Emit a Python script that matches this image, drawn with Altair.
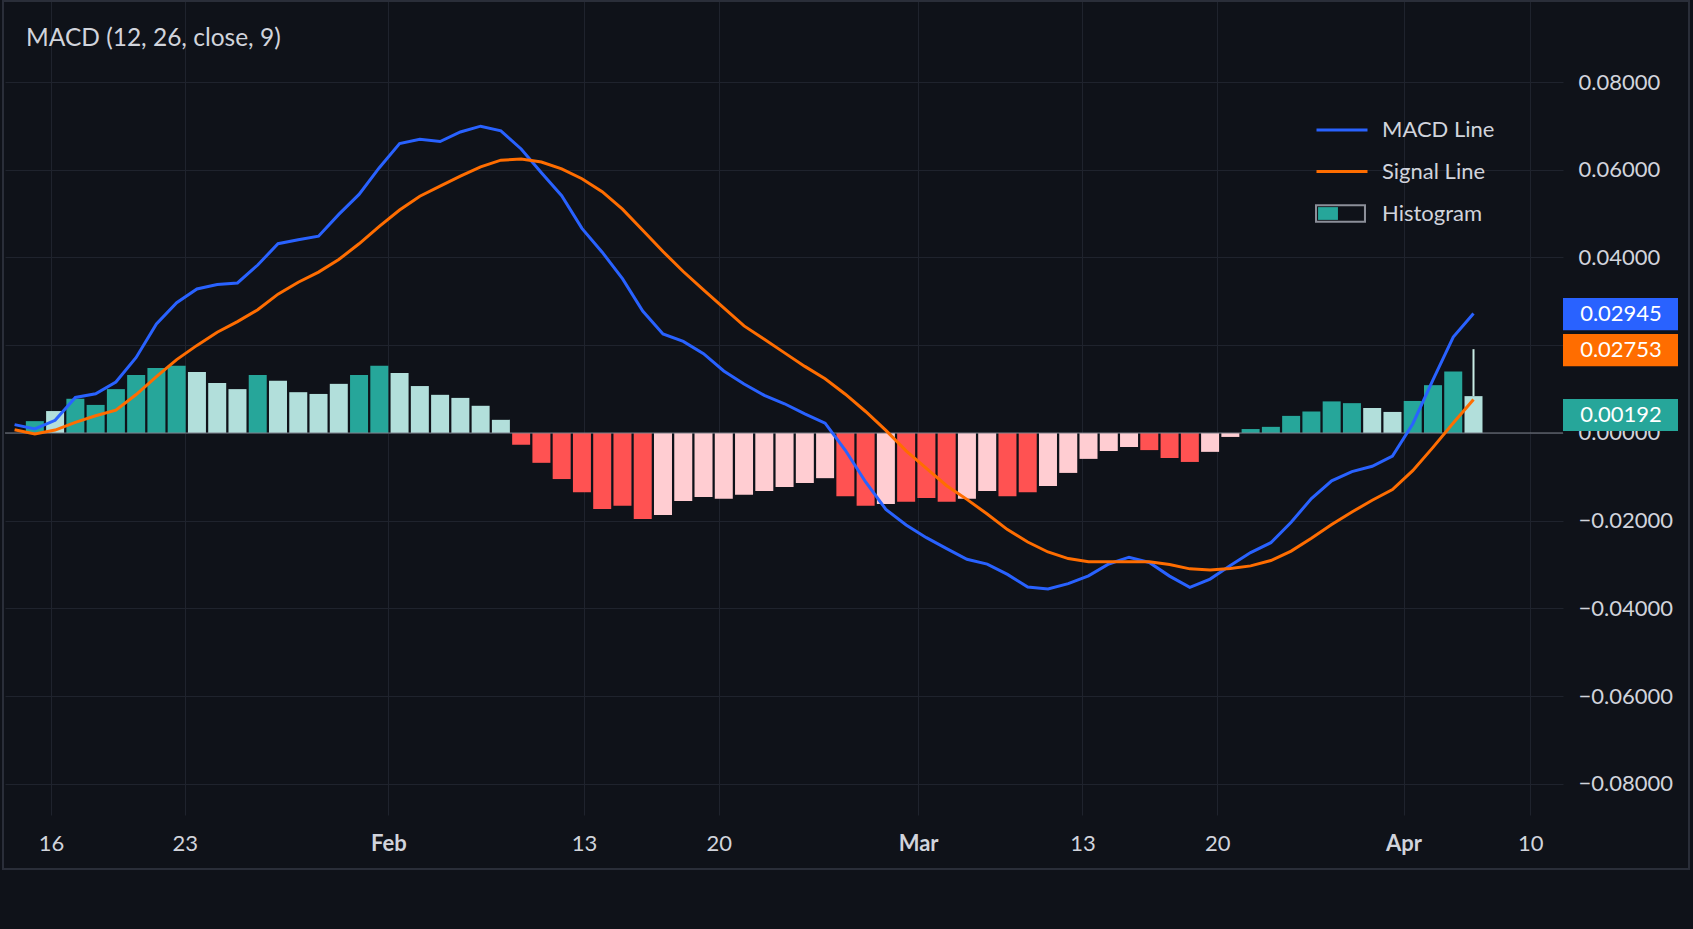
import altair as alt
import pandas as pd

# ---------------- values ----------------
# histogram, one value per bar (bar index 0..71)
hist_left = [0.0027, 0.0050, 0.0078, 0.0064, 0.0100, 0.0132, 0.0148, 0.0153, 0.0139, 0.0114,
             0.0100, 0.0132, 0.0119, 0.0093, 0.0089, 0.0112, 0.0132, 0.0153, 0.0137, 0.0107,
             0.0087, 0.0080, 0.0062, 0.0030]
hist_mid = [-0.0027, -0.0068, -0.0105, -0.0135, -0.0173, -0.0166, -0.0196, -0.0187, -0.0155, -0.0146,
            -0.0150, -0.0141, -0.0132, -0.0123, -0.0114, -0.0103, -0.0144, -0.0166, -0.0162, -0.0157,
            -0.0148, -0.0157, -0.0150, -0.0132, -0.0144, -0.0135, -0.0121, -0.0091, -0.0059, -0.0041,
            -0.0032, -0.0039, -0.0057, -0.0066, -0.0043, -0.0009]
hist_right = [0.0009, 0.0014, 0.0039, 0.0049, 0.0072, 0.0068, 0.0057, 0.0048, 0.0073, 0.0109,
              0.0140, 0.0084]
# bar shade: G growing above zero, g falling above, R falling below, r rising below
shade_left = "GgGGGGGGgggGggggGGgggggg"
shade_mid = "RRRRRRR" + "rrrrrrrrr" + "RR" + "r" + "RRR" + "rr" + "RR" + "rrrrr" + "RRR" + "rr"
shade_right = "GGGGGGggGGGg"
# thin wick above the last bar: bar index, from, to
wick = [71, 0.0084, 0.0191]

# lines, one value per bar starting one bar before the first histogram bar (index -1..71)
macd_line = [0.00191, 0.00091, 0.00289, 0.00809, 0.00893, 0.01162, 0.01721, 0.02484, 0.02968, 0.03282,
             0.03385, 0.03419, 0.03829, 0.04315, 0.04403, 0.04485, 0.04982, 0.05438, 0.06047, 0.06598,
             0.06694, 0.06644, 0.06860, 0.06993, 0.06888, 0.06473, 0.05930, 0.05409, 0.04663, 0.04121,
             0.03519, 0.02781, 0.02256, 0.02088, 0.01807, 0.01413, 0.01117, 0.00857, 0.00666, 0.00438,
             0.00223, -0.00394, -0.01117, -0.01741, -0.02097, -0.02386, -0.02635, -0.02879, -0.02988, -0.03223,
             -0.03512, -0.03556, -0.03433, -0.03255, -0.02986, -0.02831, -0.02952, -0.03262, -0.03517, -0.03330,
             -0.03018, -0.02726, -0.02500, -0.02033, -0.01495, -0.01089, -0.00880, -0.00759, -0.00524, 0.00205,
             0.01208, 0.02188, 0.02724]
signal_line = [0.00073, -0.00025, 0.00066, 0.00242, 0.00394, 0.00520, 0.00877, 0.01283, 0.01673, 0.01997,
               0.02297, 0.02539, 0.02808, 0.03164, 0.03437, 0.03667, 0.03954, 0.04312, 0.04711, 0.05083,
               0.05397, 0.05625, 0.05853, 0.06065, 0.06218, 0.06245, 0.06177, 0.06019, 0.05796, 0.05500,
               0.05103, 0.04622, 0.04137, 0.03681, 0.03264, 0.02851, 0.02441, 0.02136, 0.01826, 0.01518,
               0.01235, 0.00884, 0.00490, 0.00059, -0.00408, -0.00809, -0.01201, -0.01513, -0.01846, -0.02202,
               -0.02484, -0.02712, -0.02863, -0.02933, -0.02933, -0.02933, -0.02933, -0.02999, -0.03097, -0.03123,
               -0.03091, -0.03029, -0.02906, -0.02692, -0.02400, -0.02088, -0.01801, -0.01534, -0.01290, -0.00859,
               -0.00328, 0.00226, 0.00764]

# time axis: positions in bar units and their labels
tick_pos = [0.80, 7.40, 17.45, 27.10, 33.75, 43.59, 51.70, 58.35, 67.55, 73.80]
tick_lab = ["16", "23", "Feb", "13", "20", "Mar", "13", "20", "Apr", "10"]
month_pos = [17.45, 43.59, 67.55]

# value axis
y_ticks = [0.08, 0.06, 0.04, 0.02, 0.0, -0.02, -0.04, -0.06, -0.08]

# last-value tags on the price scale
tag_text = ["0.02945", "0.02753", "0.00192"]
tag_level = [0.0271, 0.0189, 0.0041]
tag_color = ["#2962ff", "#ff6d00", "#26a69a"]

title_text = "MACD (12, 26, close, 9)"

# ---------------- build tables ----------------
hist = hist_left + hist_mid + hist_right
shade = list(shade_left + shade_mid + shade_right)
n = min(len(hist), len(shade))
bars = pd.DataFrame({"i": list(range(n)), "v": hist[:n], "shade": shade[:n]})
wick_df = pd.DataFrame({"i": [wick[0]], "v": [wick[1]], "v2": [wick[2]]})

rows = []
for k, v in enumerate(macd_line):
    rows.append({"i": k - 1, "v": v, "series": "MACD Line"})
for k, v in enumerate(signal_line):
    rows.append({"i": k - 1, "v": v, "series": "Signal Line"})
lines = pd.DataFrame(rows)

tags = pd.DataFrame({"label": tag_text, "v": tag_level, "col": tag_color})

BG = "#0f1219"
TXT = "#d1d4dc"
GRID = "#1f232d"
FONT = "Lato"
W, H = 1558, 815

xscale = alt.Scale(domain=[-1.226, 75.17], nice=False, zero=False)
yscale = alt.Scale(domain=[-0.08707, 0.09869], nice=False, zero=False)

label_expr = "[" + ",".join("'%s'" % t for t in tick_lab) + "][indexof([" + \
    ",".join(str(p) for p in tick_pos) + "], datum.value)]"
month_test = "indexof([" + ",".join(str(p) for p in month_pos) + "], datum.value) >= 0"

x_axis = alt.Axis(values=tick_pos, labelExpr=label_expr, grid=True, gridColor=GRID,
                  ticks=False, tickSize=0, domain=False, labelFontSize=22, labelColor=TXT,
                  labelFont=FONT, labelPadding=28, labelBaseline="middle", title=None,
                  labelFontWeight={"condition": {"test": month_test, "value": "bold"}, "value": "normal"})
y_axis = alt.Axis(orient="right", values=y_ticks, format=".5f", grid=True, gridColor=GRID,
                  ticks=False, tickSize=0, domain=False, labelFontSize=22, labelColor=TXT,
                  labelFont=FONT, labelAlign="left", labelPadding=15, labelBaseline="middle",
                  title=None)

X = alt.X("i:Q", scale=xscale, axis=x_axis, title=None)
Y = alt.Y("v:Q", scale=yscale, axis=y_axis, title=None)

bar_layer = alt.Chart(bars).mark_bar(width=18).encode(
    x=X,
    y=alt.Y("v:Q", scale=yscale, axis=y_axis, title=None, stack=None),
    color=alt.Color("shade:N",
                    scale=alt.Scale(domain=["G", "g", "R", "r"],
                                    range=["#26a69a", "#b2dfdb", "#ff5252", "#ffcdd2"]),
                    legend=None),
)

wick_layer = alt.Chart(wick_df).mark_rule(color="#c8ebe4", strokeWidth=2).encode(
    x=X, y=Y, y2="v2:Q"
)

zero_layer = alt.Chart(pd.DataFrame({"v": [0.0]})).mark_rule(color="#7d808a", strokeWidth=1.2).encode(
    y=Y
)

line_layer = alt.Chart(lines).mark_line(strokeWidth=3).encode(
    x=X,
    y=Y,
    stroke=alt.Stroke("series:N",
                      scale=alt.Scale(domain=["MACD Line", "Signal Line"],
                                      range=["#2962ff", "#ff6d00"]),
                      legend=alt.Legend(orient="none", legendX=1310, legendY=103,
                                        direction="vertical", symbolType="stroke",
                                        symbolSize=2601, symbolStrokeWidth=3,
                                        labelFontSize=22, labelColor=TXT, labelFont=FONT,
                                        labelOffset=13, rowPadding=3.5, padding=0,
                                        title=None)),
)

# histogram legend icon: grey frame + teal block, drawn as two stacked legends
ring_path = "M-1,-0.36H1V0.36H-1Z M-0.92,-0.28V0.28H0.92V-0.28Z"
block_path = "M-0.88,-0.25H-0.1V0.25H-0.88Z"
hist_names = pd.DataFrame({"frame_name": ["Histogram"], "block_name": ["Histogram"]})

hist_legend_frame = alt.Chart(hist_names).mark_point(
    filled=True, fill="#8c8f99", strokeWidth=0, clip=True
).encode(
    x=alt.value(-500), y=alt.value(-500),
    shape=alt.Shape("frame_name:N", scale=alt.Scale(domain=["Histogram"], range=[ring_path]),
                    legend=alt.Legend(orient="none", legendX=1310, legendY=188,
                                      symbolType=ring_path, symbolSize=2601,
                                      symbolFillColor="#8c8f99", symbolStrokeWidth=0,
                                      symbolOpacity=1,
                                      labelFontSize=22, labelColor=TXT, labelFont=FONT,
                                      labelOffset=16, padding=0, title=None)),
)
hist_legend_block = alt.Chart(hist_names).mark_point(
    filled=True, shape=block_path, strokeWidth=0, clip=True
).encode(
    x=alt.value(-500), y=alt.value(-500),
    fill=alt.Fill("block_name:N", scale=alt.Scale(domain=["Histogram"], range=["#26a69a"]),
                  legend=alt.Legend(orient="none", legendX=1310, legendY=188,
                                    symbolType=block_path, symbolSize=2601,
                                    symbolStrokeWidth=0, symbolOpacity=1,
                                    labelFontSize=22, labelColor=TXT, labelFont=FONT,
                                    labelOpacity=0, labelOffset=16, padding=0, title=None)),
)

tag_box = alt.Chart(tags).mark_point(
    shape="M-1,-0.28H1V0.28H-1Z", filled=True, size=13225, opacity=1
).encode(
    x=alt.value(W + 57.5),
    y=Y,
    color=alt.Color("col:N", scale=None),
)
tag_txt = alt.Chart(tags).mark_text(
    fontSize=22, font=FONT, color="#ffffff", align="center", baseline="middle"
).encode(
    x=alt.value(W + 58),
    y=Y,
    text="label:N",
)

title_layer = alt.Chart(pd.DataFrame({"t": [title_text]})).mark_text(
    fontSize=24.5, font=FONT, color=TXT, align="left", baseline="middle"
).encode(x=alt.value(21), y=alt.value(39), text="t:N")

frame = alt.Chart(pd.DataFrame({"f": [1]})).mark_rect(
    filled=False, stroke="#2a2e39", strokeWidth=2
).encode(x=alt.value(-2), x2=alt.value(1684), y=alt.value(1), y2=alt.value(869))

chart = alt.layer(
    bar_layer, wick_layer, zero_layer, line_layer, hist_legend_frame, hist_legend_block,
    tag_box, tag_txt, title_layer, frame
).resolve_scale(
    color="independent", stroke="independent", shape="independent", fill="independent"
).properties(
    width=W, height=H,
    autosize=alt.AutoSizeParams(type="none"),
    padding={"left": 5, "top": 0, "right": 130, "bottom": 114},
    background=BG,
).configure_view(
    strokeWidth=0, fill=BG
)

chart.save("out.html", embed_options={"renderer": "svg", "actions": False})
